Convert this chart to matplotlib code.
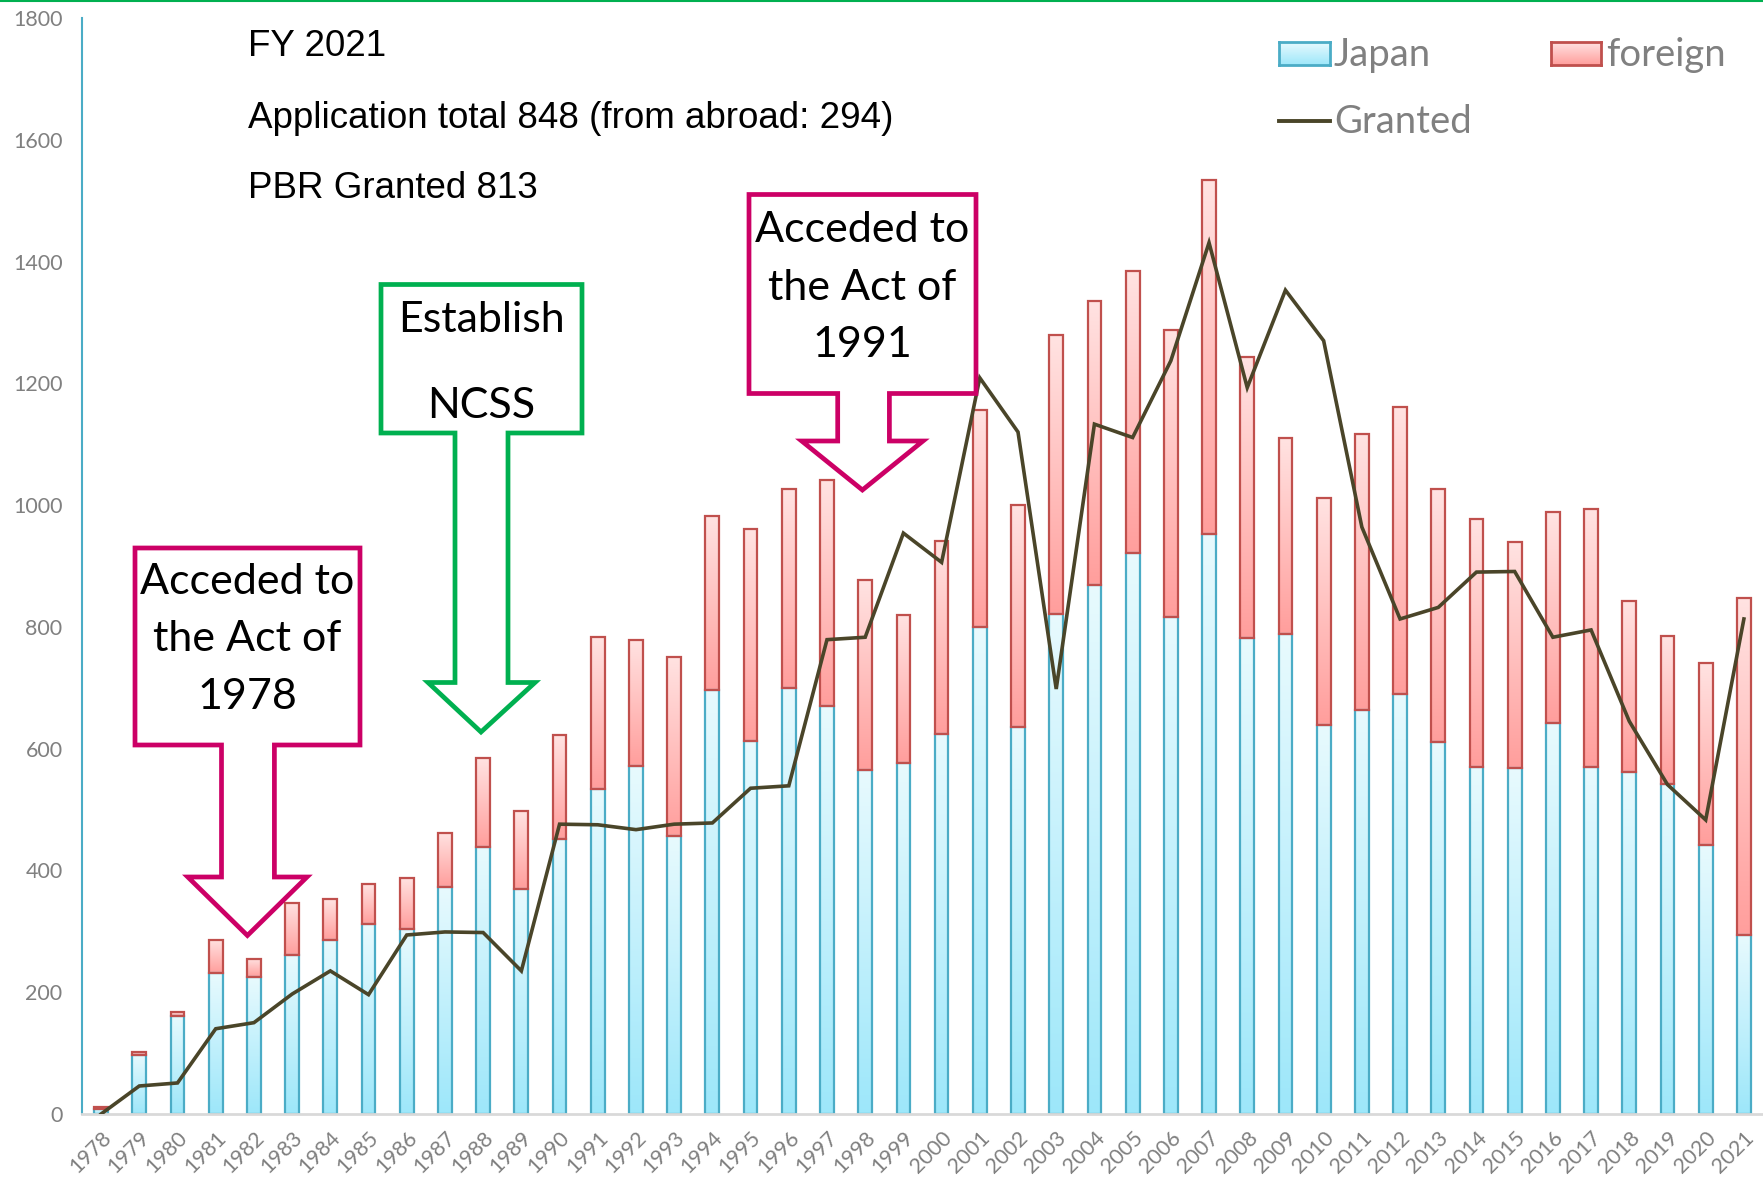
import numpy as np
import matplotlib
matplotlib.use("Agg")
import matplotlib.pyplot as plt
from matplotlib.colors import LinearSegmentedColormap
from matplotlib.patches import Polygon, Rectangle
from matplotlib.lines import Line2D
import matplotlib.transforms as mtransforms

years = [str(y) for y in range(1978, 2022)]
japan = [8, 97, 161, 231, 225, 261, 286, 312, 304, 373, 439, 370, 452, 534, 572,
         456, 696, 613, 700, 670, 565, 576, 624, 799, 635, 821, 868, 921, 816, 953,
         781, 788, 639, 663, 689, 611, 570, 568, 642, 570, 561, 542, 442, 294]
foreign = [4, 5, 6, 55, 30, 86, 67, 65, 84, 89, 146, 127, 170, 249, 207,
           294, 286, 347, 326, 371, 312, 244, 317, 358, 365, 458, 468, 463, 472, 581,
           463, 323, 373, 454, 472, 415, 408, 372, 346, 423, 281, 243, 299, 554]
granted = [0, 46, 51, 140, 150, 197, 235, 196, 294, 299, 298, 235, 476, 475, 467,
           476, 478, 535, 539, 779, 783, 954, 906, 1209, 1120, 698, 1133, 1111, 1237, 1431,
           1193, 1353, 1270, 964, 813, 832, 890, 891, 783, 795, 645, 541, 483, 813]
yticks = [0, 200, 400, 600, 800, 1000, 1200, 1400, 1600, 1800]
series_names = ['Japan', 'foreign', 'Granted']

W, H = 1763, 1181
fig = plt.figure(figsize=(W / 100, H / 100), dpi=100)
ax = fig.add_axes([82 / W, 1 - 1114 / H, 1 - 82 / W, (1114 - 18) / H])

JC, FC, GC = '#4BACC6', '#C0504D', '#4A4529'
cm_j = LinearSegmentedColormap.from_list('j', ['#9DE7FA', '#E8FAFE'])
cm_f = LinearSegmentedColormap.from_list('f', ['#FF9E9C', '#FFE3E2'])
grad = np.linspace(0, 1, 256).reshape(-1, 1)

x = np.arange(len(years))
bw = 0.36
b_j = ax.bar(x, japan, width=bw, facecolor='none', edgecolor=JC, linewidth=1.6, zorder=2)
b_f = ax.bar(x, foreign, width=bw, bottom=japan, facecolor='none', edgecolor=FC,
             linewidth=1.6, zorder=2)

for bars, cm in ((b_j, cm_j), (b_f, cm_f)):
    for b in bars:
        bx, by = b.get_xy()
        w, h = b.get_width(), b.get_height()
        if h <= 0:
            continue
        im = ax.imshow(grad, extent=[bx, bx + w, by, by + h], aspect='auto', cmap=cm,
                       origin='lower', zorder=1.9, interpolation='bilinear')
        im.set_clip_path(b)

ax.plot(x, granted, color=GC, linewidth=2.6, zorder=3, solid_joinstyle='miter')

ax.set_aspect('auto')
ax.set_xlim(-0.5, len(years) - 0.5)
ax.set_ylim(0, 1800)

tickfont = 'Lato'
ax.set_yticks(yticks)
ax.set_yticklabels([str(v) for v in yticks], fontsize=15.5, color='#808080', family=tickfont)
ax.set_xticks(x)
ax.set_xticklabels(years, rotation=45, ha='right', rotation_mode='anchor',
                   fontsize=15.5, color='#808080', family=tickfont)
ax.tick_params(axis='both', length=0)
ax.tick_params(axis='y', pad=14)
ax.tick_params(axis='x', pad=10)
for s in ('top', 'right'):
    ax.spines[s].set_visible(False)
ax.spines['left'].set_color(JC)
ax.spines['left'].set_linewidth(1.5)
ax.spines['bottom'].set_color('#D9D9D9')
ax.spines['bottom'].set_linewidth(2)

# pixel transform (full-size pixels, y downward)
pt = mtransforms.Affine2D().scale(1 / W, -1 / H).translate(0, 1) + fig.transFigure

fig.add_artist(Line2D([0, W], [1, 1], transform=pt, color='#00B050', linewidth=1.5))

tfont = 'Liberation Sans'
for txt, yy in (("FY 2021", 46), ("Application total 848 (from abroad: 294)", 118),
                ("PBR Granted 813", 189)):
    fig.text(248, yy, txt, transform=pt, fontsize=26.5, family=tfont, color='black',
             ha='left', va='center')


def callout(L, R, T, B, sL, sR, sB, hL, hR, tip, color, lines, ys, cx):
    pts = [(L, T), (R, T), (R, B), (sR, B), (sR, sB), (hR, sB), tip, (hL, sB),
           (sL, sB), (sL, B), (L, B)]
    fig.add_artist(Polygon(pts, closed=True, transform=pt, facecolor='white',
                           edgecolor=color, linewidth=3.4, joinstyle='miter', zorder=5))
    for t, yy in zip(lines, ys):
        fig.text(cx, yy, t, transform=pt, fontsize=31, family='Lato', color='black',
                 ha='center', va='center', zorder=6)


callout(135, 360, 548, 745, 221.5, 274.4, 877, 187.8, 307, (247.4, 935.5), '#CC0066',
        ["Acceded to", "the Act of", "1978"], [582, 639, 697], 247.5)
callout(381, 582, 284.5, 433, 455, 508, 682.5, 428, 535, (481, 732), '#00B050',
        ["Establish", "NCSS"], [320, 406], 481.5)
callout(749, 976, 194.5, 393.5, 837.7, 889.4, 441, 801.7, 923, (862.4, 490), '#CC0066',
        ["Acceded to", "the Act of", "1991"], [230, 288, 345], 862.5)


# manual legend (figure pixel coordinates)
def legend_patch(x0, x1, y0, y1, cm, ec):
    lax = fig.add_axes([x0 / W, 1 - y1 / H, (x1 - x0) / W, (y1 - y0) / H])
    lax.imshow(grad, cmap=cm, aspect='auto', origin='lower', extent=[0, 1, 0, 1])
    lax.set_xticks([]); lax.set_yticks([])
    for s in lax.spines.values():
        s.set_color(ec); s.set_linewidth(2)


legend_patch(1278.5, 1330, 42, 65, cm_j, JC)
legend_patch(1550.5, 1601, 42, 65, cm_f, FC)
fig.add_artist(Line2D([1278.5, 1330], [120.5, 120.5], transform=pt, color=GC, linewidth=2.8))
lp = dict(transform=pt, fontsize=27.5, family='Lato', color='#808080', ha='left',
          va='baseline')
fig.text(1334, 66, series_names[0], **lp)
fig.text(1606, 66, series_names[1], **lp)
fig.text(1334, 133, series_names[2], **lp)

fig.savefig('out.png', dpi=100)
